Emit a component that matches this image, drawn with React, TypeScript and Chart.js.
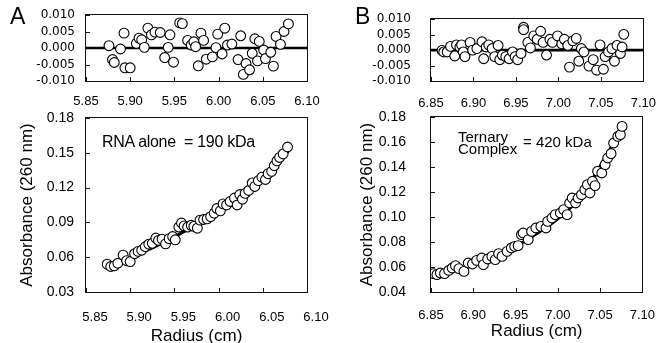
import React, { useEffect, useRef } from "react";
import { Chart, registerables } from "chart.js";
Chart.register(...registerables);

const CW = 663;
const CH = 360;

// ---------- Panel A ----------
const xTicksA = [5.85, 5.9, 5.95, 6.0, 6.05, 6.1];
const absTicksA = [0.03, 0.06, 0.09, 0.12, 0.15, 0.18];
const resTicks = [-0.01, -0.005, 0, 0.005, 0.01];

const resRadiusA = [5.876, 5.88, 5.882, 5.889, 5.893, 5.894, 5.9, 5.907, 5.91, 5.913, 5.916, 5.92, 5.924, 5.928, 5.934, 5.939, 5.943, 5.945, 5.949, 5.956, 5.959, 5.965, 5.969, 5.972, 5.974, 5.977, 5.98, 5.983, 5.986, 5.993, 5.997, 5.999, 6.004, 6.007, 6.01, 6.015, 6.022, 6.025, 6.028, 6.031, 6.035, 6.038, 6.041, 6.044, 6.046, 6.051, 6.053, 6.059, 6.062, 6.065, 6.07, 6.074, 6.079];
const residualsA = [0.0007, -0.0035, -0.0044, -0.0003, 0.0045, -0.006, -0.006, 0.0014, 0.003, 0.0025, 0.0002, 0.006, 0.004, 0.0048, 0.0047, -0.0029, 0.0002, 0.004, -0.0043, 0.0076, 0.0074, 0.0023, 0.0009, 0.0019, 0.0004, -0.0054, 0.0045, 0.0023, -0.0034, -0.0027, 0.0001, 0.0042, -0.0018, 0.006, 0.0009, 0.0012, -0.0035, 0.0037, -0.008, -0.0047, -0.0066, -0.0016, 0.0028, -0.0039, 0.002, -0.0006, -0.0032, -0.0013, -0.0055, 0.0035, 0.0011, 0.005, 0.0073];

const radiusA = [5.874, 5.878, 5.882, 5.886, 5.892, 5.896, 5.9, 5.905, 5.909, 5.913, 5.917, 5.921, 5.925, 5.929, 5.932, 5.936, 5.94, 5.944, 5.948, 5.951, 5.955, 5.958, 5.961, 5.965, 5.969, 5.972, 5.976, 5.979, 5.983, 5.987, 5.991, 5.995, 5.998, 6.002, 6.005, 6.009, 6.013, 6.018, 6.021, 6.024, 6.027, 6.03, 6.034, 6.038, 6.041, 6.045, 6.049, 6.053, 6.056, 6.06, 6.063, 6.066, 6.069, 6.073, 6.078];
const absorbanceA = [0.054, 0.052, 0.0525, 0.0548, 0.0618, 0.057, 0.0562, 0.063, 0.065, 0.066, 0.069, 0.0712, 0.072, 0.0765, 0.0745, 0.0755, 0.0715, 0.076, 0.0778, 0.075, 0.086, 0.0895, 0.087, 0.086, 0.0875, 0.0865, 0.085, 0.092, 0.0925, 0.093, 0.095, 0.098, 0.102, 0.1, 0.106, 0.105, 0.108, 0.111, 0.105, 0.114, 0.11, 0.115, 0.1175, 0.124, 0.121, 0.126, 0.129, 0.127, 0.132, 0.134, 0.139, 0.143, 0.146, 0.149, 0.155];
const fitRadiusA = [5.875, 5.9, 5.925, 5.95, 5.975, 6.0, 6.025, 6.05, 6.08];
const fitAbsorbanceA = [0.0525, 0.0597, 0.068, 0.0775, 0.0882, 0.1004, 0.1144, 0.13, 0.152];

// ---------- Panel B ----------
const xTicksB = [6.85, 6.9, 6.95, 7.0, 7.05, 7.1];
const absTicksB = [0.04, 0.06, 0.08, 0.1, 0.12, 0.14, 0.16, 0.18];

const resRadiusB = [6.863, 6.865, 6.869, 6.873, 6.878, 6.88, 6.884, 6.886, 6.888, 6.89, 6.896, 6.899, 6.904, 6.91, 6.912, 6.915, 6.918, 6.922, 6.925, 6.929, 6.931, 6.934, 6.938, 6.942, 6.946, 6.949, 6.952, 6.956, 6.959, 6.959, 6.964, 6.967, 6.971, 6.975, 6.979, 6.982, 6.986, 6.99, 6.993, 6.999, 7.004, 7.007, 7.011, 7.013, 7.017, 7.021, 7.024, 7.027, 7.03, 7.036, 7.041, 7.045, 7.049, 7.053, 7.055, 7.059, 7.063, 7.066, 7.069, 7.073, 7.075, 7.077];
const residualsB = [-0.0001, -0.0006, -0.0006, 0.0012, -0.0019, 0.0017, 0.001, 0.0017, -0.0006, -0.0021, 0.0025, 0.0, 0.0005, 0.0027, -0.0028, 0.001, 0.0017, 0.0005, -0.0021, 0.0015, -0.0031, -0.0016, -0.0021, -0.0028, -0.0006, -0.0021, -0.0031, -0.0011, 0.0074, 0.0066, 0.0025, 0.0007, 0.0046, 0.0035, 0.0061, 0.0025, -0.0016, 0.0035, 0.0025, 0.0046, 0.002, 0.0035, 0.0015, -0.0055, 0.003, 0.0038, -0.0036, 0.0005, -0.0006, -0.0052, -0.0031, -0.0065, 0.0017, -0.0062, -0.0021, -0.0006, 0.0005, -0.0036, 0.0015, -0.0011, 0.001, 0.0051];

const radiusB = [6.853, 6.857, 6.861, 6.866, 6.871, 6.875, 6.879, 6.883, 6.889, 6.894, 6.899, 6.904, 6.91, 6.912, 6.917, 6.922, 6.926, 6.93, 6.934, 6.94, 6.945, 6.949, 6.953, 6.957, 6.959, 6.965, 6.969, 6.974, 6.98, 6.986, 6.988, 6.993, 6.997, 7.003, 7.007, 7.011, 7.014, 7.017, 7.021, 7.024, 7.028, 7.032, 7.035, 7.038, 7.041, 7.044, 7.047, 7.052, 7.056, 7.059, 7.063, 7.066, 7.071, 7.074, 7.076];
const absorbanceB = [0.0547, 0.0539, 0.0552, 0.0547, 0.0573, 0.0592, 0.0611, 0.0587, 0.0565, 0.0632, 0.0624, 0.0653, 0.0672, 0.0619, 0.0664, 0.0685, 0.0659, 0.0707, 0.0685, 0.0725, 0.0752, 0.0765, 0.0771, 0.0859, 0.0872, 0.0819, 0.0885, 0.0912, 0.0925, 0.0912, 0.0965, 0.0992, 0.1019, 0.1032, 0.1059, 0.1019, 0.1112, 0.1152, 0.1112, 0.1152, 0.1179, 0.1219, 0.1259, 0.1192, 0.1286, 0.1251, 0.1366, 0.1352, 0.1419, 0.1472, 0.1507, 0.1592, 0.1645, 0.1659, 0.1725];
const fitRadiusB = [6.855, 6.9, 6.95, 6.978, 7.0, 7.02, 7.039, 7.058, 7.078];
const fitAbsorbanceB = [0.054, 0.062, 0.0765, 0.088, 0.0985, 0.111, 0.128, 0.15, 0.172];

const FONT = "'Liberation Sans', Arial, Helvetica, sans-serif";

const zip = (xs: number[], ys: number[]) => xs.map((x, i) => ({ x, y: ys[i] }));

const framePlugin = {
  id: "frame",
  beforeDatasetsDraw(chart: any) {
    const { ctx, chartArea: a, scales } = chart;
    const L = Math.round(a.left), T = Math.round(a.top), R = Math.round(a.right), B = Math.round(a.bottom);
    ctx.save();
    ctx.strokeStyle = "#111";
    ctx.lineWidth = 1;
    ctx.strokeRect(L - 0.5, T - 0.5, R - L + 1, B - T + 1);
    ctx.beginPath();
    for (const t of scales.x.ticks) {
      const px = Math.round(scales.x.getPixelForValue(t.value)) + 0.5;
      ctx.moveTo(px, B);
      ctx.lineTo(px, B - 4);
    }
    for (const t of scales.y.ticks) {
      const py = Math.round(scales.y.getPixelForValue(t.value)) + 0.5;
      ctx.moveTo(L, py);
      ctx.lineTo(L + 4, py);
    }
    ctx.stroke();
    ctx.restore();
  },
};

type Opts = {
  points: { x: number; y: number }[];
  line: { x: number; y: number }[];
  xTicks: number[];
  yTicks: number[];
  yDigits: number;
  area: { left: number; right: number; top: number; bottom: number };
  padLeft: number;
  xHeight: number;
  xPad: number;
  xLabelOffset: number;
  yPad: number;
  yFont: any;
  xTitle?: string;
  yTitle?: string;
  yTitlePad?: number;
  lineWidth: number;
  curved: boolean;
};

function buildConfig(o: Opts): any {
  const yWidth = o.area.left - o.padLeft;
  const padBottom = CH - o.area.bottom - o.xHeight;
  return {
    type: "scatter",
    data: {
      datasets: [
        {
          type: "scatter",
          data: o.points,
          pointRadius: 4.9,
          pointBackgroundColor: "#fff",
          pointBorderColor: "#000",
          pointBorderWidth: 1.1,
          order: 0,
        },
        {
          type: "line",
          data: o.line,
          borderColor: "#000",
          borderWidth: o.lineWidth,
          pointRadius: 0,
          fill: false,
          cubicInterpolationMode: o.curved ? "monotone" : "default",
          tension: 0,
          order: 1,
        },
      ],
    },
    options: {
      animation: false,
      responsive: false,
      events: [],
      layout: {
        padding: { left: o.padLeft, right: CW - o.area.right, top: o.area.top, bottom: padBottom },
      },
      plugins: { legend: { display: false }, tooltip: { enabled: false } },
      scales: {
        x: {
          type: "linear",
          min: o.xTicks[0],
          max: o.xTicks[o.xTicks.length - 1],
          afterBuildTicks: (s: any) => {
            s.ticks = o.xTicks.map((v) => ({ value: v }));
          },
          afterFit: (s: any) => {
            s.height = o.xHeight;
          },
          grid: { display: false },
          border: { display: false },
          ticks: {
            callback: (v: any) => Number(v).toFixed(2),
            font: { family: FONT, size: 13 },
            color: "#000",
            padding: o.xPad,
            labelOffset: o.xLabelOffset,
            maxRotation: 0,
            autoSkip: false,
          },
          title: o.xTitle
            ? { display: true, text: o.xTitle, font: { family: FONT, size: 17 }, color: "#000", padding: { top: 0, bottom: 0 } }
            : { display: false },
        },
        y: {
          type: "linear",
          min: o.yTicks[0],
          max: o.yTicks[o.yTicks.length - 1],
          afterBuildTicks: (s: any) => {
            s.ticks = o.yTicks.map((v) => ({ value: v }));
          },
          afterFit: (s: any) => {
            s.width = yWidth;
          },
          grid: { display: false },
          border: { display: false },
          ticks: {
            callback: (v: any) => Number(v).toFixed(o.yDigits),
            font: o.yFont,
            color: "#000",
            padding: o.yPad,
            autoSkip: false,
          },
          title: o.yTitle
            ? { display: true, text: o.yTitle, font: { family: FONT, size: 17 }, color: "#000", padding: { top: o.yTitlePad || 0, bottom: 0 } }
            : { display: false },
        },
      },
    },
    plugins: [framePlugin],
  };
}

const resYFont = { family: "'DejaVu Sans', sans-serif", size: 12 };
const mainYFont = { family: FONT, size: 14 };

export default function App() {
  const ra = useRef<HTMLCanvasElement>(null);
  const ma = useRef<HTMLCanvasElement>(null);
  const rb = useRef<HTMLCanvasElement>(null);
  const mb = useRef<HTMLCanvasElement>(null);

  useEffect(() => {
    const charts: Chart[] = [];
    charts.push(
      new Chart(ra.current as HTMLCanvasElement, buildConfig({
        points: zip(resRadiusA, residualsA),
        line: [{ x: xTicksA[0], y: 0 }, { x: xTicksA[xTicksA.length - 1], y: 0 }],
        xTicks: xTicksA, yTicks: resTicks, yDigits: 3,
        area: { left: 86, right: 307, top: 15, bottom: 81 },
        padLeft: 0, xHeight: 30, xPad: 5, xLabelOffset: 0, yPad: 3, yFont: resYFont,
        lineWidth: 2.6, curved: false,
      }))
    );
    charts.push(
      new Chart(ma.current as HTMLCanvasElement, buildConfig({
        points: zip(radiusA, absorbanceA),
        line: zip(fitRadiusA, fitAbsorbanceA),
        xTicks: xTicksA, yTicks: absTicksA, yDigits: 2,
        area: { left: 86, right: 307, top: 118, bottom: 292 },
        padLeft: 0, xHeight: 55, xPad: 10, xLabelOffset: 9, yPad: 4, yFont: mainYFont,
        xTitle: "Radius (cm)", yTitle: "Absorbance (260 nm)", yTitlePad: 17,
        lineWidth: 3, curved: true,
      }))
    );
    charts.push(
      new Chart(rb.current as HTMLCanvasElement, buildConfig({
        points: zip(resRadiusB, residualsB),
        line: [{ x: xTicksB[0], y: 0 }, { x: xTicksB[xTicksB.length - 1], y: 0 }],
        xTicks: xTicksB, yTicks: resTicks, yDigits: 3,
        area: { left: 431, right: 649, top: 15, bottom: 81 },
        padLeft: 331, xHeight: 30, xPad: 7, xLabelOffset: 0, yPad: 12, yFont: resYFont,
        lineWidth: 2.6, curved: false,
      }))
    );
    charts.push(
      new Chart(mb.current as HTMLCanvasElement, buildConfig({
        points: zip(radiusB, absorbanceB),
        line: zip(fitRadiusB, fitAbsorbanceB),
        xTicks: xTicksB, yTicks: absTicksB, yDigits: 2,
        area: { left: 431, right: 647, top: 117, bottom: 292 },
        padLeft: 331, xHeight: 50, xPad: 8, xLabelOffset: 0, yPad: 17, yFont: mainYFont,
        xTitle: "Radius (cm)", yTitle: "Absorbance (260 nm)", yTitlePad: 26,
        lineWidth: 3, curved: true,
      }))
    );
    return () => charts.forEach((c) => c.destroy());
  }, []);

  const canvasStyle: React.CSSProperties = { position: "absolute", left: 0, top: 0, width: CW, height: CH };
  const txt = (extra: React.CSSProperties): React.CSSProperties => ({
    position: "absolute",
    fontFamily: FONT,
    color: "#000",
    lineHeight: 1,
    whiteSpace: "pre",
    ...extra,
  });

  return (
    <div style={{ position: "absolute", left: 0, top: 0, width: 663, height: 343, overflow: "hidden", background: "#fff" }}>
      <canvas ref={ra} width={CW} height={CH} style={canvasStyle} />
      <canvas ref={ma} width={CW} height={CH} style={canvasStyle} />
      <canvas ref={rb} width={CW} height={CH} style={canvasStyle} />
      <canvas ref={mb} width={CW} height={CH} style={canvasStyle} />
      <div style={txt({ left: 10, top: 5, fontSize: 23 })}>A</div>
      <div style={txt({ left: 355, top: 5, fontSize: 23 })}>B</div>
      <div style={txt({ left: 102, top: 134, fontSize: 16, letterSpacing: "-0.3px" })}>{"RNA alone  = 190 kDa"}</div>
      <div style={txt({ left: 458, top: 129, fontSize: 15 })}>Ternary</div>
      <div style={txt({ left: 458, top: 141, fontSize: 15 })}>Complex</div>
      <div style={txt({ left: 523, top: 134, fontSize: 15 })}>= 420 kDa</div>
    </div>
  );
}
